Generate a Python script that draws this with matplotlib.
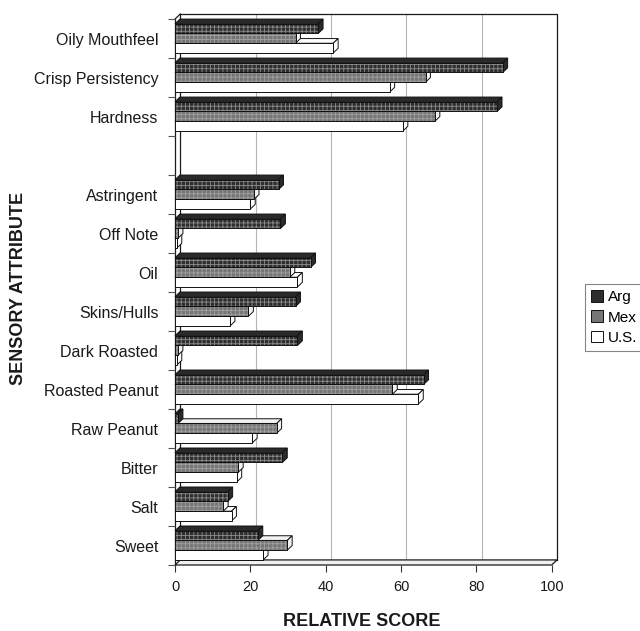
import matplotlib.pyplot as plt
from matplotlib.patches import Polygon, Patch

plt.rcParams['font.family'] = ['Liberation Sans', 'DejaVu Sans']
plt.rcParams['hatch.linewidth'] = 0.6

# bottom to top; '' is the empty spacer row between the two attribute groups
attributes = ['Sweet', 'Salt', 'Bitter', 'Raw Peanut', 'Roasted Peanut',
              'Dark Roasted', 'Skins/Hulls', 'Oil', 'Off Note', 'Astringent',
              '', 'Hardness', 'Crisp Persistency', 'Oily Mouthfeel']
arg = [22, 14, 28.5, 0.8, 66, 32.5, 32, 36, 28, 27.5, 0, 85.5, 87, 38]
mex = [29.8, 12.8, 16.8, 27, 57.7, 0.8, 19.5, 30.5, 0.8, 21, 0, 69, 66.5, 32]
us = [23.4, 15, 16.4, 20.5, 64.6, 0.5, 14.6, 32.5, 0.5, 20, 0, 60.5, 57, 42]
series_names = ['Arg', 'Mex', 'U.S.']
xticks = [0, 20, 40, 60, 80, 100]

# fill, hatch colour, colour of top/end faces
styles = {
    'Arg': ('#2e2e2e', '#8c8c8c', '#2a2a2a'),
    'Mex': ('#767676', '#a0a0a0', '#f2f2f2'),
    'U.S.': ('#ffffff', None, '#ffffff'),
}

fig = plt.figure(figsize=(6.4, 6.31), dpi=100)
ax = fig.add_axes([175 / 640, 66 / 631, 382 / 640, 551 / 631])

WX, WY = 1.4, 0.13      # depth of the walls
BX, BY = 1.3, 0.12      # depth of each bar
y_lo, y_hi = -0.5, len(attributes) - 0.5
ax.set_xlim(0, 100 + WX)
ax.set_ylim(y_lo, y_hi + WY)

# back wall gridlines and frame
for t in xticks[1:-1]:
    ax.plot([t + WX, t + WX], [y_lo + WY, y_hi + WY], color='#b5b5b5', lw=0.8, zorder=0)
frame = dict(color='#1a1a1a', lw=0.9, clip_on=False, zorder=1)
ax.plot([WX, 100 + WX, 100 + WX], [y_hi + WY, y_hi + WY, y_lo + WY], **frame)
ax.plot([WX, WX], [y_lo + WY, y_hi + WY], **frame)
ax.plot([0, 0], [y_lo, y_hi], **frame)
ax.plot([0, WX], [y_hi, y_hi + WY], **frame)
floor = Polygon([(0, y_lo), (100, y_lo), (100 + WX, y_lo + WY), (WX, y_lo + WY)],
                closed=True, facecolor='#f0f0f0', edgecolor='#1a1a1a', lw=0.9,
                clip_on=False, zorder=1)
ax.add_patch(floor)


def draw_bar(v, y0, h, name):
    fill, hatch_col, side = styles[name]
    front = [(0, y0), (v, y0), (v, y0 + h), (0, y0 + h)]
    top = [(0, y0 + h), (v, y0 + h), (v + BX, y0 + h + BY), (BX, y0 + h + BY)]
    end = [(v, y0), (v + BX, y0 + BY), (v + BX, y0 + h + BY), (v, y0 + h)]
    for pts in (top, end):
        ax.add_patch(Polygon(pts, closed=True, facecolor=side, edgecolor='#111111',
                             lw=0.7, zorder=3, clip_on=False))
    ax.add_patch(Polygon(front, closed=True, facecolor=fill, edgecolor='none',
                         zorder=3, clip_on=False))
    if hatch_col:
        ax.add_patch(Polygon(front, closed=True, fill=False, hatch='++++',
                             edgecolor=hatch_col, lw=0, zorder=3, clip_on=False))
    ax.add_patch(Polygon(front, closed=True, fill=False, edgecolor='#111111',
                         lw=0.7, zorder=3, clip_on=False))


h = 0.25
for i, name in enumerate(attributes):
    if not name:
        continue
    # lower bars first so the bar above hides their top faces
    draw_bar(us[i], i - 0.37, h, 'U.S.')
    draw_bar(mex[i], i - 0.12, h, 'Mex')
    draw_bar(arg[i], i + 0.13, h, 'Arg')

for s in ax.spines.values():
    s.set_visible(False)

ax.set_xticks(xticks)
ax.set_xticklabels([str(t) for t in xticks], fontsize=10.5, color='#1a1a1a')
ax.tick_params(axis='x', length=5, width=0.8, color='#333333', pad=6)

ax.set_yticks([i + 0.5 for i in range(-1, len(attributes))])
ax.set_yticklabels([])
ax.tick_params(axis='y', which='major', length=5, width=0.8, color='#555555')
ax.set_yticks(range(len(attributes)), minor=True)
ax.set_yticklabels(attributes, minor=True, fontsize=11.5, color='#1a1a1a')
ax.tick_params(axis='y', which='minor', length=0, pad=12)

fig.text(362 / 640, 1 - 622 / 631, 'RELATIVE SCORE', ha='center', va='center',
         fontsize=13, fontweight='bold', color='#1a1a1a')
fig.text(19 / 640, 1 - 288 / 631, 'SENSORY ATTRIBUTE', ha='center', va='center',
         rotation=90, fontsize=13, fontweight='bold', color='#1a1a1a')

handles = []
for name in series_names:
    fill, hatch_col, _ = styles[name]
    handles.append(Patch(facecolor=fill, edgecolor='#111111', lw=0.7))
leg = fig.legend(handles, series_names, loc='upper left',
                 bbox_to_anchor=(585 / 640, 1 - 284 / 631), fontsize=11,
                 frameon=True, fancybox=False, handlelength=0.8, handleheight=0.8,
                 handletextpad=0.3, labelspacing=0.4, borderpad=0.4,
                 borderaxespad=0)
leg.get_frame().set_edgecolor('#666666')
leg.get_frame().set_linewidth(0.8)

fig.savefig('out.png', dpi=100, facecolor='white')
